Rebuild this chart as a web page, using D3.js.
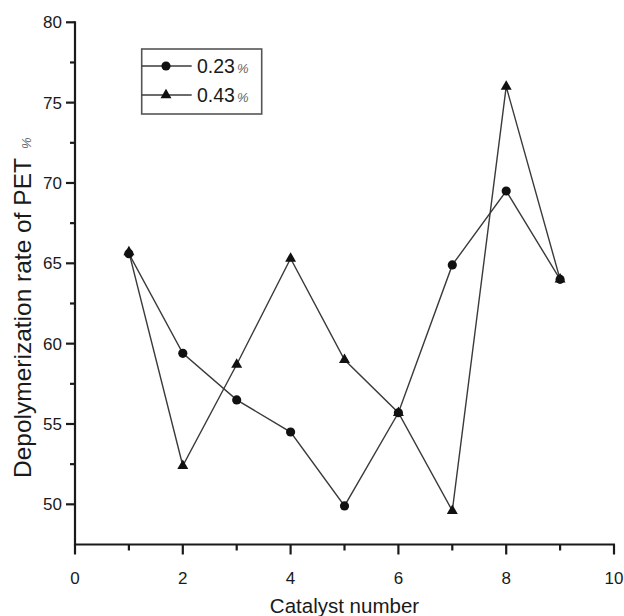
<!DOCTYPE html>
<html>
<head>
<meta charset="utf-8">
<script src="https://cdn.jsdelivr.net/npm/d3@7"></script>
<style>
  html, body { margin: 0; padding: 0; background: #fff; }
  svg { display: block; }
  text { font-family: "Liberation Sans", Arial, sans-serif; fill: #1a1a1a; }
</style>
</head>
<body>
<svg id="chart" width="624" height="616"></svg>
<script>
// ---- data ----
const catalysts = [1, 2, 3, 4, 5, 6, 7, 8, 9];
const series023 = [65.6, 59.4, 56.5, 54.5, 49.9, 55.7, 64.9, 69.5, 64.0];
const series043 = [65.7, 52.4, 58.7, 65.3, 59.0, 55.7, 49.6, 76.0, 64.0];
const seriesNames = ["0.23", "0.43"];
const xMajorTicks = [0, 2, 4, 6, 8, 10];
const xMinorTicks = [1, 3, 5, 7, 9];
const yMajorTicks = [50, 55, 60, 65, 70, 75, 80];
const yMinorTicks = [52.5, 57.5, 62.5, 67.5, 72.5, 77.5];
const xTitle = "Catalyst number";
const yTitle = "Depolymerization rate of PET";

// ---- layout ----
const svg = d3.select("#chart");
const x = d3.scaleLinear().domain([0, 10]).range([75, 614]);
const y = d3.scaleLinear().domain([47.5, 80]).range([544.5, 22.3]);
const axisColor = "#1a1a1a";
const lineColor = "#3a3a3a";
const x0 = x(0), yb = y(47.5);

// tick marks
const ticks = svg.append("g").attr("stroke", axisColor).attr("stroke-width", 2.2);
ticks.selectAll("line.xmaj").data(xMajorTicks).join("line").attr("class", "xmaj")
  .attr("x1", d => x(d)).attr("x2", d => x(d)).attr("y1", yb).attr("y2", yb + 10);
ticks.selectAll("line.xmin").data(xMinorTicks).join("line").attr("class", "xmin")
  .attr("x1", d => x(d)).attr("x2", d => x(d)).attr("y1", yb).attr("y2", yb + 6);
ticks.selectAll("line.ymaj").data(yMajorTicks).join("line").attr("class", "ymaj")
  .attr("y1", d => y(d)).attr("y2", d => y(d)).attr("x1", x0).attr("x2", x0 - 9);
ticks.selectAll("line.ymin").data(yMinorTicks).join("line").attr("class", "ymin")
  .attr("y1", d => y(d)).attr("y2", d => y(d)).attr("x1", x0).attr("x2", x0 - 5);

// axis lines
svg.append("line").attr("x1", x0 - 1).attr("x2", x(10) + 1).attr("y1", yb).attr("y2", yb)
  .attr("stroke", axisColor).attr("stroke-width", 2.2);
svg.append("line").attr("x1", x0).attr("x2", x0).attr("y1", y(80) - 1).attr("y2", yb + 1)
  .attr("stroke", axisColor).attr("stroke-width", 2.2);

// tick labels
svg.append("g").selectAll("text").data(xMajorTicks).join("text")
  .attr("x", d => x(d)).attr("y", yb + 39).attr("text-anchor", "middle")
  .style("font-size", "17px").text(d => d);
svg.append("g").selectAll("text").data(yMajorTicks).join("text")
  .attr("x", x0 - 13).attr("y", d => y(d)).attr("dy", "0.35em").attr("text-anchor", "end")
  .style("font-size", "17px").text(d => d);

// titles
svg.append("text")
  .attr("x", (x(0) + x(10)) / 2).attr("y", 613)
  .attr("text-anchor", "middle").style("font-size", "20.5px")
  .text(xTitle);

const yt = svg.append("text")
  .attr("transform", `translate(31,478) rotate(-90)`)
  .attr("text-anchor", "start").style("font-size", "24.5px");
yt.append("tspan").text(yTitle);
yt.append("tspan").style("font-size", "13px").style("font-style", "italic").attr("fill", "#666").attr("dx", 9).text("%");

// lines and markers
const line = d3.line().x((d, i) => x(catalysts[i])).y(d => y(d));
const circleSym = d3.symbol().type(d3.symbolCircle).size(66);
const triSym = d3.symbol().type(d3.symbolTriangle).size(52);

[series023, series043].forEach(vals => {
  svg.append("path").datum(vals)
    .attr("fill", "none").attr("stroke", lineColor).attr("stroke-width", 1.4)
    .attr("d", line);
});
[[series023, circleSym], [series043, triSym]].forEach(([vals, sym]) => {
  svg.append("g").selectAll("path").data(vals).join("path")
    .attr("transform", (d, i) => `translate(${x(catalysts[i])},${y(d)})`)
    .attr("d", sym()).attr("fill", "#111");
});

// legend
const lg = svg.append("g");
lg.append("rect").attr("x", 141.7).attr("y", 49).attr("width", 120).attr("height", 65)
  .attr("fill", "#fff").attr("stroke", "#555").attr("stroke-width", 1.6);
const rows = [[66, circleSym], [95, triSym]];
rows.forEach(([ry, sym], i) => {
  lg.append("line").attr("x1", 141.7).attr("x2", 191.7).attr("y1", ry).attr("y2", ry)
    .attr("stroke", lineColor).attr("stroke-width", 1.6);
  lg.append("path").attr("transform", `translate(166,${ry})`).attr("d", sym()).attr("fill", "#111");
  const t = lg.append("text").attr("x", 197).attr("y", ry + 7).style("font-size", "19.5px");
  t.append("tspan").text(seriesNames[i]);
  t.append("tspan").attr("dx", 2).style("font-size", "13px").style("font-style", "italic").attr("fill", "#666").text("%");
});
</script>
</body>
</html>
